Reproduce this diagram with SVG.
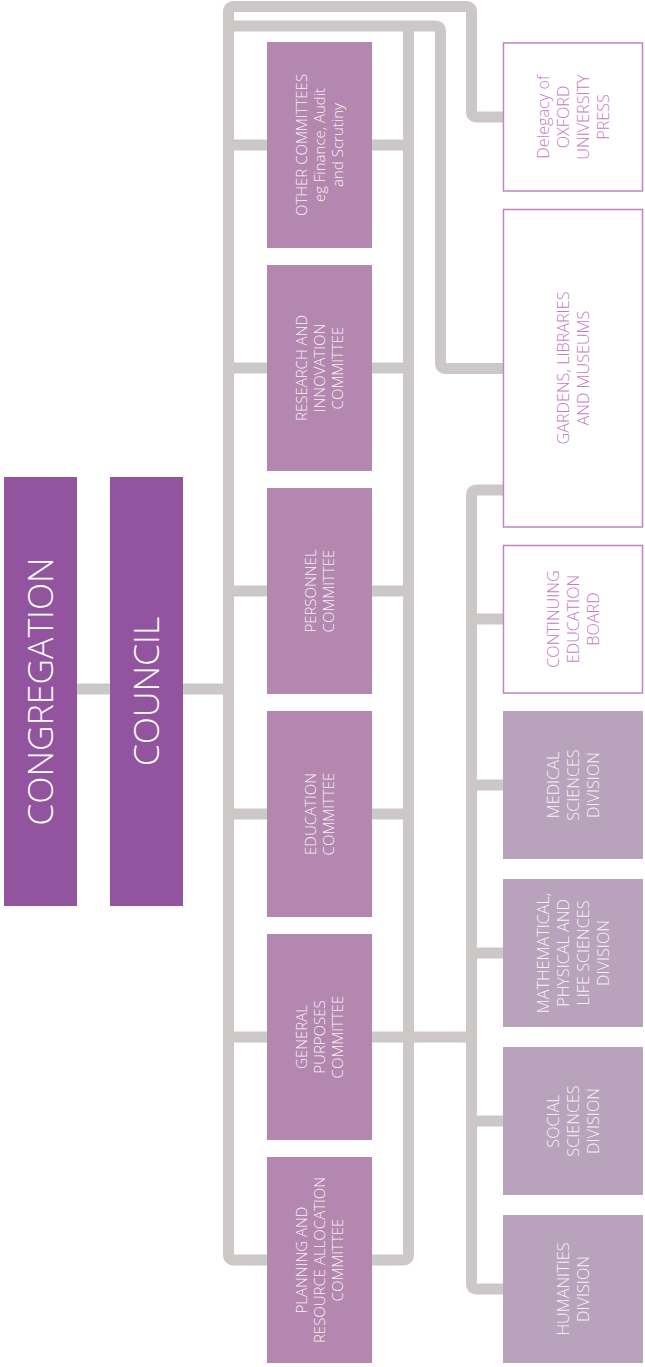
<svg xmlns="http://www.w3.org/2000/svg" width="645" height="1367" viewBox="0 0 645 1367">
<style>
.ln{fill:none;stroke:#cdc8c8;stroke-width:11;stroke-linejoin:round}
.top{fill:#92549f}
.com{fill:#b487b1}
.div{fill:#b9a2bb}
.out{fill:#ffffff;stroke:#c282c4;stroke-width:1.5}
text{font-family:"Open Sans","Liberation Sans",sans-serif;font-weight:300;text-anchor:middle}
.tb{font-size:35.5px;fill:#ffffff}
.tc{font-size:15px;fill:#f6eff6}
.td{font-size:16.2px;fill:#f6f0f6}
.to{font-size:16.2px;fill:#c47cc4}
</style>
<rect width="645" height="1367" fill="#ffffff"/>
<g id="connectors">
<path class="ln" d="M503 117 H477 Q471.5 117 471.5 111.5 V12 Q471.5 6.5 466 6.5 H234 Q228.5 6.5 228.5 12 V1254.5 Q228.5 1260 234 1260 H403 Q408.5 1260 408.5 1254.5 V26"/>
<path class="ln" d="M228.5 26 H435 Q440.5 26 440.5 31.5 V363 Q440.5 368.5 446 368.5 H503"/>
<path class="ln" d="M77 689 H110 M183 689 H228.5"/>
<path class="ln" d="M228.5 145 H267 M372 145 H408.5 M228.5 368 H267 M372 368 H408.5 M228.5 591 H267 M372 591 H408.5 M228.5 814 H267 M372 814 H408.5 M228.5 1037 H267 M372 1037 H471.5"/>
<path class="ln" d="M503 490 H477 Q471.5 490 471.5 495.5 V1283.5 Q471.5 1289 477 1289 H503"/>
<path class="ln" d="M471.5 619 H503 M471.5 785 H503 M471.5 953 H503 M471.5 1121 H503"/>
</g>
<g id="congregation">
<rect class="top" x="4" y="477" width="73" height="429"/>
<text class="tb" transform="translate(40.5 691.5) rotate(-90)" y="12.8">CONGREGATION</text>
</g>
<g id="council">
<rect class="top" x="110" y="477" width="73" height="429"/>
<text class="tb" transform="translate(146.5 691.5) rotate(-90)" y="12.8">COUNCIL</text>
</g>
<g id="other-committees">
<rect class="com" x="267" y="42" width="105" height="206"/>
<text class="tc" transform="translate(319.5 145) rotate(-90)"><tspan x="0" y="-12.6">OTHER COMMITTEES</tspan><tspan x="0" dy="18">eg Finance, Audit</tspan><tspan x="0" dy="18">and Scrutiny</tspan></text>
</g>
<g id="research-committee">
<rect class="com" x="267" y="265" width="105" height="206"/>
<text class="tc" transform="translate(319.5 368) rotate(-90)"><tspan x="0" y="-12.6">RESEARCH AND</tspan><tspan x="0" dy="18">INNOVATION</tspan><tspan x="0" dy="18">COMMITTEE</tspan></text>
</g>
<g id="personnel-committee">
<rect class="com" x="267" y="488" width="105" height="206"/>
<text class="tc" transform="translate(319.5 591) rotate(-90)"><tspan x="0" y="-3.6">PERSONNEL</tspan><tspan x="0" dy="18">COMMITTEE</tspan></text>
</g>
<g id="education-committee">
<rect class="com" x="267" y="711" width="105" height="206"/>
<text class="tc" transform="translate(319.5 814) rotate(-90)"><tspan x="0" y="-3.6">EDUCATION</tspan><tspan x="0" dy="18">COMMITTEE</tspan></text>
</g>
<g id="general-purposes-committee">
<rect class="com" x="267" y="934" width="105" height="206"/>
<text class="tc" transform="translate(319.5 1037) rotate(-90)"><tspan x="0" y="-12.6">GENERAL</tspan><tspan x="0" dy="18">PURPOSES</tspan><tspan x="0" dy="18">COMMITTEE</tspan></text>
</g>
<g id="planning-committee">
<rect class="com" x="267" y="1157" width="105" height="206"/>
<text class="tc" transform="translate(319.5 1260) rotate(-90)"><tspan x="0" y="-12.6">PLANNING AND</tspan><tspan x="0" dy="18">RESOURCE ALLOCATION</tspan><tspan x="0" dy="18">COMMITTEE</tspan></text>
</g>
<g id="oup">
<rect class="out" x="503.5" y="43" width="139" height="148"/>
<text class="to" transform="translate(573 117) rotate(-90)"><tspan x="0" y="-24.2">Delegacy of</tspan><tspan x="0" dy="20">OXFORD</tspan><tspan x="0" dy="20">UNIVERSITY</tspan><tspan x="0" dy="20">PRESS</tspan></text>
</g>
<g id="glam">
<rect class="out" x="503.5" y="209.5" width="139" height="317.5"/>
<text class="to" transform="translate(573 368) rotate(-90)"><tspan x="0" y="-4.2">GARDENS, LIBRARIES</tspan><tspan x="0" dy="20">AND MUSEUMS</tspan></text>
</g>
<g id="continuing-education">
<rect class="out" x="503.5" y="545.5" width="139" height="147.5"/>
<text class="to" transform="translate(573 619) rotate(-90)"><tspan x="0" y="-14.2">CONTINUING</tspan><tspan x="0" dy="20">EDUCATION</tspan><tspan x="0" dy="20">BOARD</tspan></text>
</g>
<g id="medical-sciences">
<rect class="div" x="503" y="711" width="140" height="148"/>
<text class="td" transform="translate(573 785) rotate(-90)"><tspan x="0" y="-14.2">MEDICAL</tspan><tspan x="0" dy="20">SCIENCES</tspan><tspan x="0" dy="20">DIVISION</tspan></text>
</g>
<g id="mpls">
<rect class="div" x="503" y="879" width="140" height="148"/>
<text class="td" transform="translate(573 953) rotate(-90)"><tspan x="0" y="-24.2">MATHEMATICAL,</tspan><tspan x="0" dy="20">PHYSICAL AND</tspan><tspan x="0" dy="20">LIFE SCIENCES</tspan><tspan x="0" dy="20">DIVISION</tspan></text>
</g>
<g id="social-sciences">
<rect class="div" x="503" y="1047" width="140" height="148"/>
<text class="td" transform="translate(573 1121) rotate(-90)"><tspan x="0" y="-14.2">SOCIAL</tspan><tspan x="0" dy="20">SCIENCES</tspan><tspan x="0" dy="20">DIVISION</tspan></text>
</g>
<g id="humanities">
<rect class="div" x="503" y="1215" width="140" height="148"/>
<text class="td" transform="translate(573 1289) rotate(-90)"><tspan x="0" y="-4.2">HUMANITIES</tspan><tspan x="0" dy="20">DIVISION</tspan></text>
</g>
</svg>
